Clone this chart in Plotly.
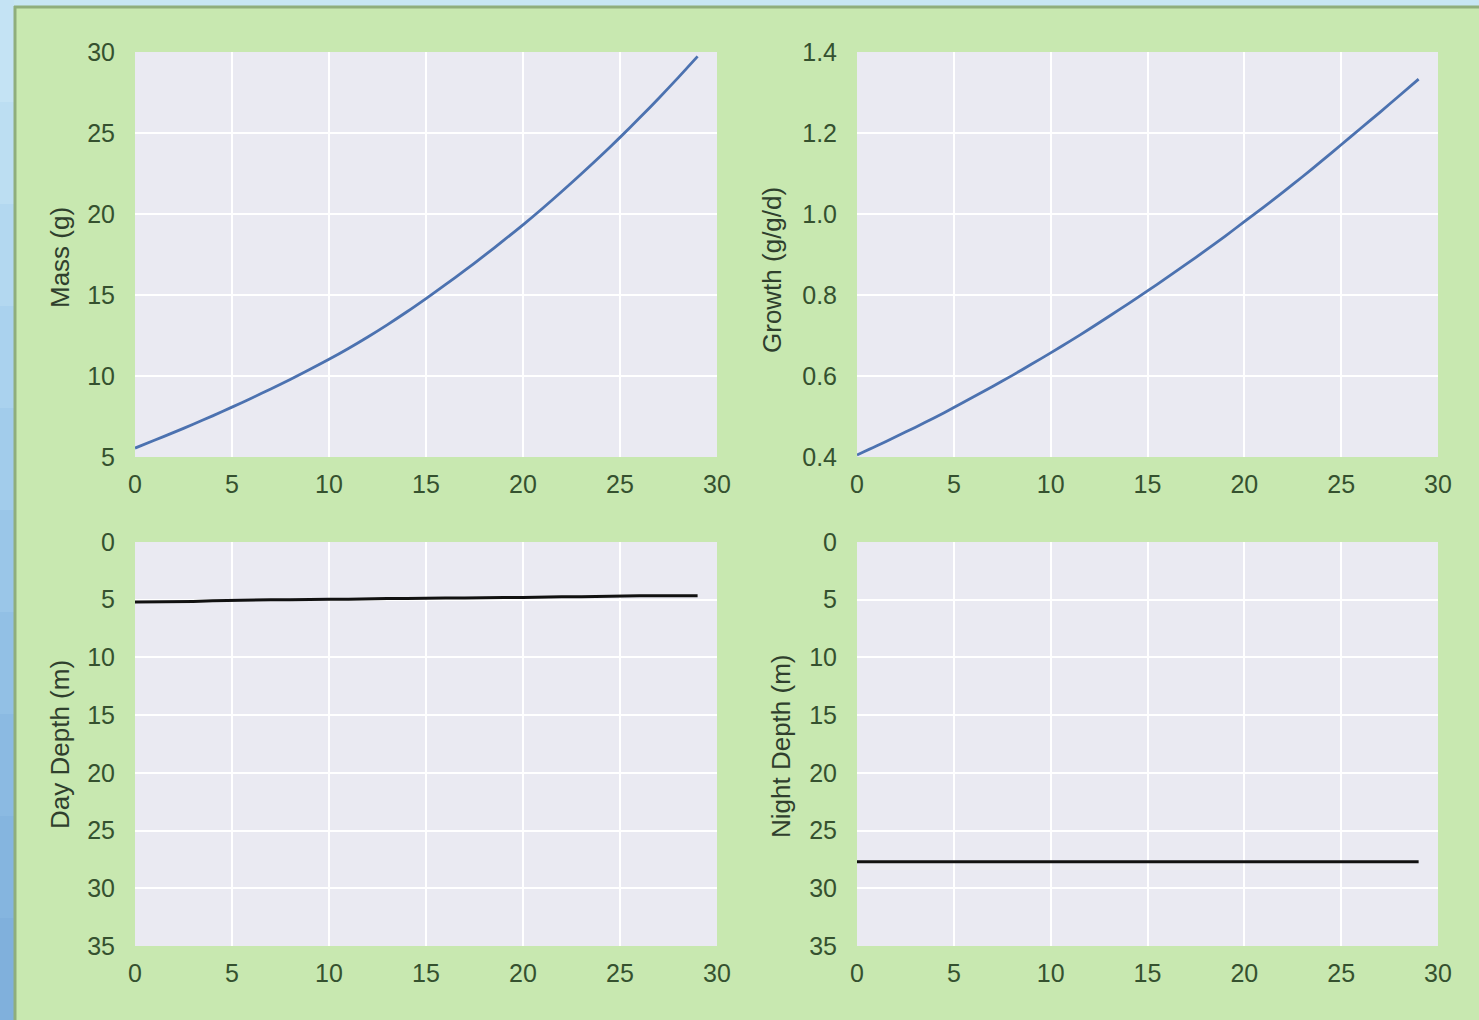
import plotly.graph_objects as go

days = list(range(30))
mass = [5.55, 6.03, 6.52, 7.02, 7.54, 8.08, 8.63, 9.20, 9.79, 10.40,
        11.03, 11.70, 12.41, 13.16, 13.95, 14.78, 15.64, 16.52, 17.43, 18.37,
        19.33, 20.34, 21.39, 22.47, 23.58, 24.73, 25.92, 27.15, 28.42, 29.73]
growth = [0.405, 0.427, 0.450, 0.473, 0.497, 0.522, 0.548, 0.574, 0.601, 0.629,
          0.657, 0.686, 0.716, 0.747, 0.778, 0.810, 0.843, 0.876, 0.910, 0.945,
          0.981, 1.017, 1.054, 1.092, 1.131, 1.171, 1.211, 1.251, 1.292, 1.333]
day_depth = [5.2, 5.2, 5.15, 5.15, 5.1, 5.05, 5.05, 5.0, 5.0, 4.95,
             4.95, 4.95, 4.9, 4.9, 4.9, 4.85, 4.85, 4.85, 4.8, 4.8,
             4.8, 4.75, 4.75, 4.75, 4.7, 4.7, 4.65, 4.65, 4.65, 4.65]
night_depth = [27.7] * 30

x_ticks = [0, 5, 10, 15, 20, 25, 30]
mass_ticks = [5, 10, 15, 20, 25, 30]
growth_ticks = [0.4, 0.6, 0.8, 1.0, 1.2, 1.4]
depth_ticks = [0, 5, 10, 15, 20, 25, 30, 35]

W, H = 1479, 1020
GREEN = "#c8e8b0"
PLOTBG = "#eaeaf2"
TXT = "#35512f"
BLUE = "#4c72b0"

def px_x(a, b):
    return [a / W, b / W]

def px_y(top, bottom):
    return [1 - bottom / H, 1 - top / H]

fig = go.Figure()
fig.add_trace(go.Scatter(x=days, y=mass, mode="lines", line=dict(color=BLUE, width=2.8, shape="spline", smoothing=0.8), xaxis="x", yaxis="y"))
fig.add_trace(go.Scatter(x=days, y=growth, mode="lines", line=dict(color=BLUE, width=2.8, shape="spline", smoothing=0.8), xaxis="x2", yaxis="y2"))
fig.add_trace(go.Scatter(x=days, y=day_depth, mode="lines", line=dict(color="#111111", width=3), xaxis="x3", yaxis="y3"))
fig.add_trace(go.Scatter(x=days, y=night_depth, mode="lines", line=dict(color="#111111", width=3), xaxis="x4", yaxis="y4"))

tickfont = dict(family="Liberation Sans, Arial, sans-serif", size=25, color=TXT)

def xax(domain, anchor):
    return dict(domain=domain, anchor=anchor, range=[0, 30], tickvals=x_ticks,
                showgrid=True, gridcolor="white", gridwidth=2, zeroline=False,
                showline=False, ticks="outside", ticklen=5, tickcolor="rgba(0,0,0,0)",
                tickfont=tickfont, fixedrange=True, automargin=False)

def yax(domain, anchor, rng, vals, text=None):
    d = dict(domain=domain, anchor=anchor, range=rng, tickvals=vals,
             showgrid=True, gridcolor="white", gridwidth=2, zeroline=False,
             showline=False, ticks="outside", ticklen=14, tickcolor="rgba(0,0,0,0)",
             tickfont=tickfont, fixedrange=True, automargin=False)
    if text is not None:
        d["ticktext"] = text
    return d

xl = px_x(135, 717)
xr = px_x(857, 1438)
yt = px_y(52, 457)
yb = px_y(542, 946)

fig.update_layout(
    width=W, height=H, autosize=False,
    margin=dict(l=0, r=0, t=0, b=0, pad=0, autoexpand=False),
    paper_bgcolor=GREEN, plot_bgcolor=PLOTBG,
    showlegend=False,
    xaxis=xax(xl, "y"),
    yaxis=yax(yt, "x", [5, 30], mass_ticks),
    xaxis2=xax(xr, "y2"),
    yaxis2=yax(yt, "x2", [0.4, 1.4], growth_ticks, [f"{v:.1f}" for v in growth_ticks]),
    xaxis3=xax(xl, "y3"),
    yaxis3=yax(yb, "x3", [35, 0], depth_ticks),
    xaxis4=xax(xr, "y4"),
    yaxis4=yax(yb, "x4", [35, 0], depth_ticks),
)

# frame decorations (window edges): top light-blue strip, left strip with vertical gradient
fig.add_shape(type="rect", xref="paper", yref="paper", x0=0, x1=1, y0=1 - 6 / H, y1=1,
              fillcolor="#c7e6f3", line=dict(width=0), layer="below")
band_colors = ["#c4e3f4", "#bcdef2", "#b3d8f0", "#aad2ee", "#a2cceb",
               "#9ac6e8", "#92c0e5", "#8bbae2", "#85b5df", "#80b0dc"]
n = len(band_colors)
for i, c in enumerate(band_colors):
    fig.add_shape(type="rect", xref="paper", yref="paper", x0=0, x1=14 / W,
                  y0=1 - (i + 1) / n, y1=1 - i / n,
                  fillcolor=c, line=dict(width=0), layer="below")
fig.add_shape(type="line", xref="paper", yref="paper", x0=14 / W, x1=1, y0=1 - 7 / H, y1=1 - 7 / H,
              line=dict(color="#8fae7c", width=3), layer="below")
fig.add_shape(type="line", xref="paper", yref="paper", x0=15 / W, x1=15 / W, y0=0, y1=1 - 6 / H,
              line=dict(color="#8fae7c", width=3), layer="below")

titlefont = dict(family="Liberation Sans, Arial, sans-serif", size=26, color="#2f3f2d")
for text, cx, cy in [("Mass (g)", 60, 258), ("Growth (g/g/d)", 772, 270),
                     ("Day Depth (m)", 60, 745), ("Night Depth (m)", 781, 746)]:
    fig.add_annotation(text=text, xref="paper", yref="paper", x=cx / W, y=1 - cy / H,
                       xanchor="center", yanchor="middle", textangle=-90,
                       showarrow=False, font=titlefont)

fig.write_html("out.html", config={"displayModeBar": False},
               post_script="document.body.style.margin='0';document.body.style.overflow='hidden';")
